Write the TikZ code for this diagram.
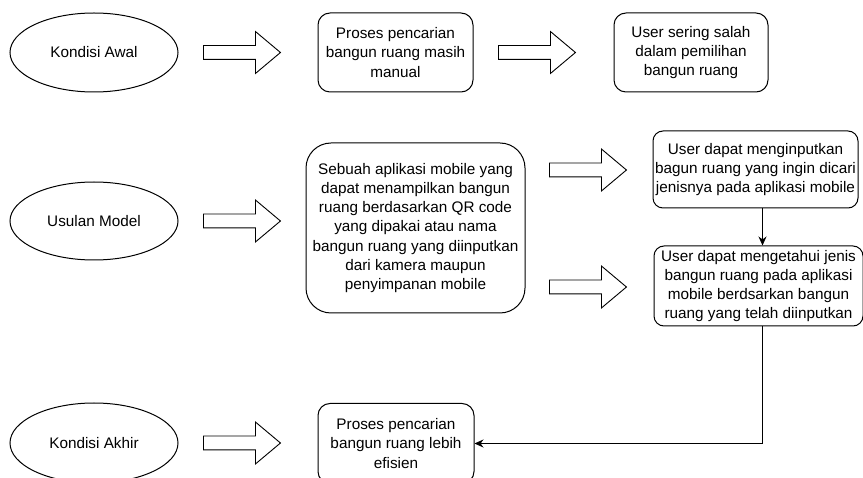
\documentclass[tikz,border=0pt]{standalone}
\usepackage{fontspec}
\setmainfont{Liberation Sans}
\usetikzlibrary{shapes.geometric,shapes.arrows,arrows.meta}

\begin{document}
\begin{tikzpicture}[x=1pt, y=-1pt,
    every node/.style={font=\fontsize{15.3}{19.2}\selectfont, align=center, inner sep=0pt},
    kondisi/.style={ellipse, draw, line width=1pt, minimum width=168pt, minimum height=79pt},
    kotak/.style={rectangle, draw, line width=1pt, rounded corners=12pt},
    panah/.style={single arrow, draw, line width=0.9pt, minimum height=77pt, inner ysep=6.5pt,
        single arrow head extend=14pt, single arrow tip angle=80, anchor=tail},
    alur/.style={line width=1pt, -{Stealth[length=9pt,width=8pt]}}]
    \useasboundingbox (0,0) rectangle (863,478);

    % Kondisi awal
    \node[kondisi] (awal) at (94,52.5) {Kondisi Awal};
    \node[panah] (p1) at (203,52.5) {};
    \node[kotak, minimum width=155pt, minimum height=79pt] (manual) at (395.5,52.5)
        {Proses pencarian\\bangun ruang masih\\manual};
    \node[panah] (p2) at (498,52.5) {};
    \node[kotak, minimum width=154pt, minimum height=79pt] (salah) at (691,52.5)
        {User sering salah\\dalam pemilihan\\bangun ruang};

    % Usulan model
    \node[kondisi, minimum height=78pt] (usulan) at (94,221) {Usulan Model};
    \node[panah] (p3) at (203,221) {};
    \node[kotak, rounded corners=25pt, minimum width=219pt, minimum height=170pt] (aplikasi) at (415.5,228)
        {Sebuah aplikasi mobile yang\\dapat menampilkan bangun\\ruang berdasarkan QR code\\yang dipakai atau nama\\bangun ruang yang diinputkan\\dari kamera maupun\\penyimpanan mobile};
    \node[panah] (p4) at (549,170) {};
    \node[panah] (p5) at (549,287) {};
    \node[kotak, rounded corners=10pt, minimum width=205pt, minimum height=77pt] (input) at (755.5,169.5)
        {User dapat menginputkan\\bagun ruang yang ingin dicari\\jenisnya pada aplikasi mobile};
    \node[kotak, rounded corners=10pt, minimum width=209pt, minimum height=80pt] (jenis) at (758.5,286)
        {User dapat mengetahui jenis\\bangun ruang pada aplikasi\\mobile berdsarkan bangun\\ruang yang telah diinputkan};

    % Kondisi akhir
    \node[kondisi, minimum height=80pt] (akhir) at (94,443) {Kondisi Akhir};
    \node[panah] (p6) at (203,443) {};
    \node[kotak, minimum width=156pt, minimum height=80pt] (efisien) at (396,443.5)
        {Proses pencarian\\bangun ruang lebih\\efisien};

    % Alur antar kotak
    \coordinate (jalur) at (762.5,443.5);
    \draw[alur] (input.south -| jalur) -- (jenis.north -| jalur);
    \draw[alur] (jenis.south -| jalur) |- (efisien.east);
\end{tikzpicture}
\end{document}
